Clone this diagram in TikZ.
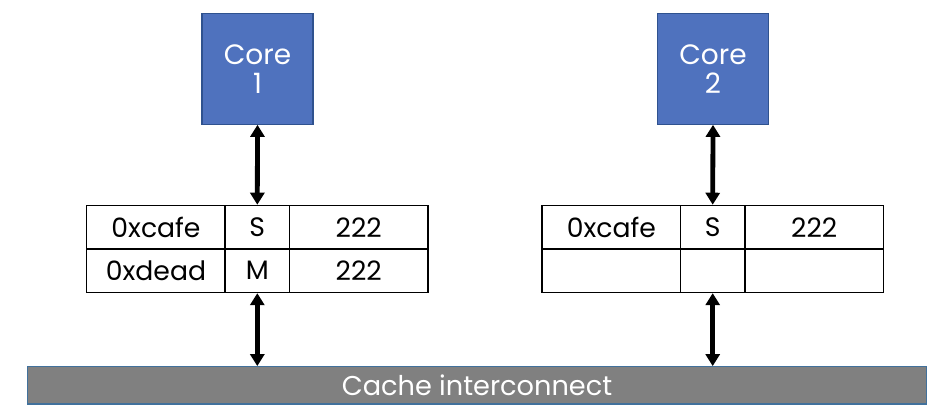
\documentclass[tikz,border=0pt]{standalone}
\usepackage{fontspec}
\setmainfont{Poppins}
\usetikzlibrary{arrows.meta}
\definecolor{corefill}{RGB}{79,114,190}
\definecolor{coreline}{RGB}{47,82,143}
\definecolor{busfill}{RGB}{128,128,128}
\definecolor{busline}{RGB}{65,113,156}
\begin{document}
\begin{tikzpicture}[x=0.75pt,y=-0.75pt,
  core/.style={draw=coreline,fill=corefill,line width=0.8pt,minimum width=83.25pt,minimum height=83.25pt,inner sep=0pt,text=white,font=\fontsize{21}{25}\selectfont,align=center},
  cell/.style={draw=black,line width=1.1pt,minimum height=32.6pt,inner sep=0pt,font=\fontsize{20}{24}\selectfont},
  wide/.style={cell,minimum width=103.9pt},
  narrow/.style={cell,minimum width=48.2pt},
  bus/.style={draw=busline,fill=busfill,line width=0.8pt,minimum width=674.5pt,minimum height=28pt,inner sep=0pt,text=white,font=\fontsize{20.4}{24}\selectfont},
  arr/.style={line width=3.6pt,{Triangle[length=9pt,width=10.5pt]}-{Triangle[length=9pt,width=10.5pt]}}]
\useasboundingbox (0,0) rectangle (942,416);
% cores
\node[core] (core1) at (257.5,68.8) {Core\\[-3pt]1};
\node[core] (core2) at (713,68.8) {Core\\[-3pt]2};
% bus
\node[bus] (bus) at (477,385.3) {Cache interconnect};
% table 1
\node[wide]   (t1a) at (156,227.2) {0xcafe};
\node[narrow] (t1s) at (257.3,227.2) {S};
\node[wide]   (t1v) at (358.7,227.2) {222};
\node[wide]   (t1b) at (156,270.7) {0xdead};
\node[narrow] (t1m) at (257.3,270.7) {M};
\node[wide]   (t1w) at (358.7,270.7) {222};
% table 2
\node[wide]   (t2a) at (611.4,227.2) {0xcafe};
\node[narrow] (t2s) at (712.7,227.2) {S};
\node[wide]   (t2v) at (814.2,227.2) {222};
\node[wide]   (t2b) at (611.4,270.7) {};
\node[narrow] (t2m) at (712.7,270.7) {};
\node[wide]   (t2w) at (814.2,270.7) {};
% arrows
\draw[arr] (core1.south) -- (t1s.north);
\draw[arr] (t1m.south) -- (t1m.south |- bus.north);
\draw[arr] (core2.south) -- (t2s.north);
\draw[arr] (t2m.south) -- (t2m.south |- bus.north);
\end{tikzpicture}
\end{document}
